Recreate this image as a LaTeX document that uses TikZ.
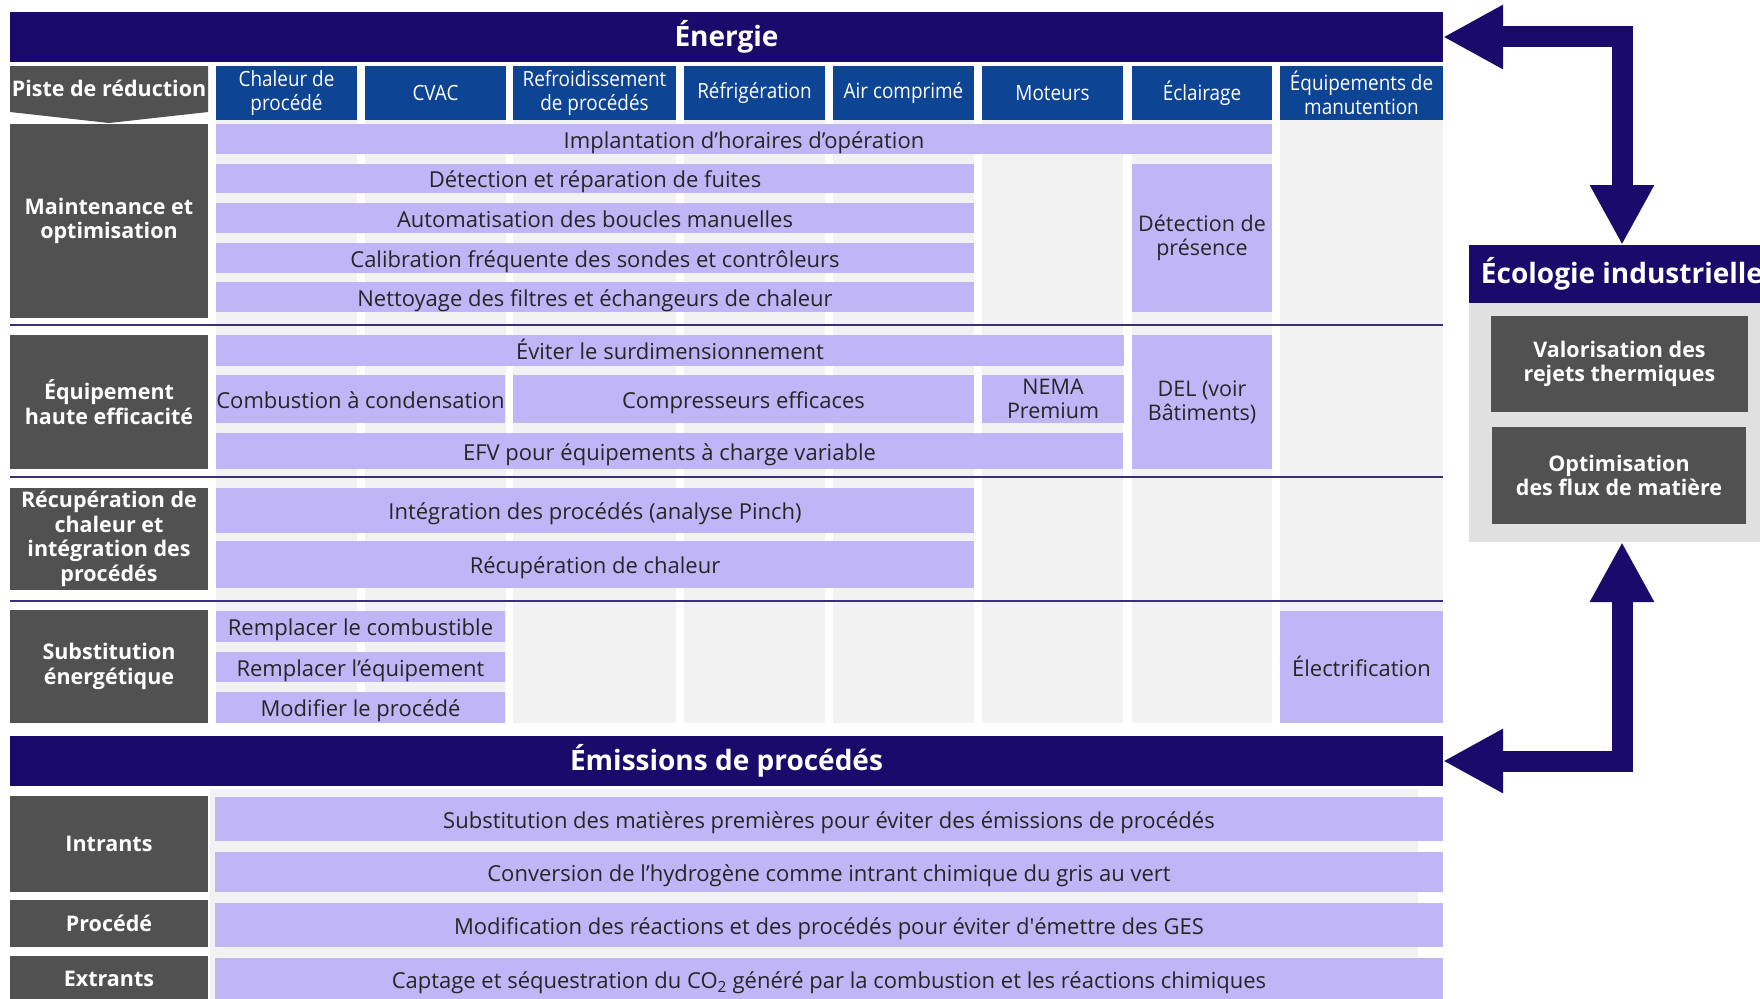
\documentclass[tikz,border=0pt]{standalone}
\usepackage{fontspec}
\setmainfont{Open Sans}
\newfontfamily\headfont[FakeStretch=0.9]{Open Sans}
\usetikzlibrary{arrows.meta}
\definecolor{navy}{RGB}{26,10,107}
\definecolor{hblue}{RGB}{14,68,148}
\definecolor{lav}{RGB}{192,182,247}
\definecolor{dgray}{RGB}{81,81,81}
\definecolor{colbg}{RGB}{242,242,242}
\definecolor{panelbg}{RGB}{224,224,224}
\definecolor{tdark}{RGB}{38,38,38}

\begin{document}
\begin{tikzpicture}[
  x=1pt, y=-1pt,
  every node/.style={inner sep=0pt, outer sep=0pt, anchor=north west,
                     align=center},
  banner/.style={fill=navy, text=white,
                 font=\bfseries\fontsize{28}{31}\selectfont},
  colhead/.style={fill=hblue, text=white, minimum height=54pt,
                  font=\headfont\fontsize{21}{23.5}\selectfont},
  lab/.style={fill=dgray, text=white, minimum width=198pt,
              font=\bfseries\fontsize{21.5}{24.5}\selectfont},
  actm/.style={fill=lav, text=tdark, font=\fontsize{21.5}{24}\selectfont},
  act/.style={actm, font=\fontsize{22}{24}\selectfont,
              text height=22pt, text depth=4pt},
  sep/.style={navy!85, line width=1.5pt},
  bigarrow/.style={navy, line width=21pt,
                   {Triangle[length=60pt,width=60pt]}-{Triangle[length=60pt,width=60pt]}},
]
\useasboundingbox (0,0) rectangle (1760,998);

% =========================================================================
% Geometry in pixels of the 1760x998 page, y going down.  Label column
% x = 10..208, eight end-use columns from x = 216 to 1443, side panel
% centred on x = 1622.
% =========================================================================

% ---- banner and column heads --------------------------------------------
\node[banner, minimum width=1433pt, minimum height=50pt] (energie) at (10,12)
  {Énergie};

\fill[dgray] (10,66) -- (208,66) -- (208,112) -- (109,123) -- (10,112) -- cycle;
\node[anchor=center, text=white, font=\bfseries\fontsize{21.5}{24.5}\selectfont]
  (piste) at (109,88) {Piste de réduction};

\foreach \x/\w/\t [count=\i] in {216/141/{Chaleur de\\procédé}, 365/141/CVAC,
    513/163/{Refroidissement\\de procédés}, 684/141/Réfrigération,
    833/141/Air comprimé, 982/141/Moteurs, 1132/140/Éclairage,
    1280/163/{Équipements de\\manutention}}{
  \fill[colbg] (\x,120) rectangle ++(\w,603);
  \node[colhead, minimum width=\w pt] (col\i) at (\x,66) {\t};
}

\foreach \y in {325,477,601}
  \draw[sep] (10,\y) -- (1443,\y);

% ---- Maintenance et optimisation ----------------------------------------
\node[lab, minimum height=194pt] (maint) at (10,124) {Maintenance et\\optimisation};
\node[act, minimum width=1056pt, minimum height=30pt] (m1) at (216,124)
  {Implantation d’horaires d’opération};
\node[act, minimum width=758pt, minimum height=29pt] (m2) at (216,164)
  {Détection et réparation de fuites};
\node[act, minimum width=758pt, minimum height=30pt] (m3) at (216,203)
  {Automatisation des boucles manuelles};
\node[act, minimum width=758pt, minimum height=30pt] (m4) at (216,243)
  {Calibration fréquente des sondes et contrôleurs};
\node[act, minimum width=758pt, minimum height=30pt] (m5) at (216,282)
  {Nettoyage des filtres et échangeurs de chaleur};
\node[actm, minimum width=140pt, minimum height=148pt] (m6) at (1132,164)
  {Détection de\\présence};

% ---- Équipement haute efficacité ----------------------------------------
\node[lab, minimum height=134pt] (equip) at (10,335) {Équipement\\haute efficacité};
\node[act, minimum width=908pt, minimum height=31pt] (e1) at (216,335)
  {Éviter le surdimensionnement};
\node[act, minimum width=289pt, minimum height=48pt] (e2) at (216,375)
  {Combustion à condensation};
\node[act, minimum width=461pt, minimum height=48pt] (e3) at (513,375)
  {Compresseurs efficaces};
\node[actm, minimum width=142pt, minimum height=48pt] (e4) at (982,375)
  {NEMA\\Premium};
\node[act, minimum width=907pt, minimum height=36pt] (e5) at (216,433)
  {EFV pour équipements à charge variable};
\node[actm, minimum width=140pt, minimum height=134pt] (e6) at (1132,335)
  {DEL (voir\\Bâtiments)};

% ---- Récupération de chaleur --------------------------------------------
\node[lab, minimum height=102pt] (recup) at (10,488)
  {Récupération de\\chaleur et\\intégration des\\procédés};
\node[act, minimum width=758pt, minimum height=45pt] (r1) at (216,488)
  {Intégration des procédés (analyse Pinch)};
\node[act, minimum width=758pt, minimum height=47pt] (r2) at (216,541)
  {Récupération de chaleur};

% ---- Substitution énergétique -------------------------------------------
\node[lab, minimum height=113pt] (subst) at (10,610) {Substitution\\énergétique};
\node[act, minimum width=289pt, minimum height=31pt] (s1) at (216,611)
  {Remplacer le combustible};
\node[act, minimum width=289pt, minimum height=30pt] (s2) at (216,652)
  {Remplacer l’équipement};
\node[act, minimum width=289pt, minimum height=31pt] (s3) at (216,692)
  {Modifier le procédé};
\node[act, minimum width=163pt, minimum height=112pt] (s4) at (1280,611)
  {Électrification};

% =========================================================================
% Émissions de procédés
% =========================================================================
\node[banner, minimum width=1433pt, minimum height=50pt] (emis) at (10,736)
  {Émissions de procédés};
\fill[colbg] (210,789) rectangle (1418,1000);

\node[lab, minimum height=96pt] (intr) at (10,796) {Intrants};
\node[act, minimum width=1228pt, minimum height=44pt] (p1) at (215,797)
  {Substitution des matières premières pour éviter des émissions de procédés};
\node[act, minimum width=1228pt, minimum height=40pt] (p2) at (215,852)
  {Conversion de l’hydrogène comme intrant chimique du gris au vert};
\node[lab, minimum height=47pt] (proc) at (10,900) {Procédé};
\node[act, minimum width=1228pt, minimum height=44pt] (p3) at (215,903)
  {Modification des réactions et des procédés pour éviter d\textquotesingle émettre des GES};
\node[lab, minimum height=46pt] (extr) at (10,956) {Extrants};
\node[act, minimum width=1228pt, minimum height=42pt] (p4) at (215,958)
  {Captage et séquestration du CO\textsubscript{2} généré par la combustion et les réactions chimiques};

% =========================================================================
% Écologie industrielle and the two links
% =========================================================================
\node[banner, minimum width=306pt, minimum height=58pt] (ecol) at (1469,245)
  {Écologie industrielle};
\node[fill=panelbg, minimum width=306pt, minimum height=239pt] (ecopanel)
  at (1469,303) {};
\node[lab, minimum width=257pt, minimum height=96pt] (valo) at (1491,316)
  {Valorisation des\\rejets thermiques};
\node[lab, minimum width=254pt, minimum height=97pt] (optim) at (1492,427)
  {Optimisation\\des flux de matière};

\draw[bigarrow] (energie.east) -| (ecol.north);
\draw[bigarrow] (emis.east) -| (ecopanel.south);

\end{tikzpicture}
\end{document}
